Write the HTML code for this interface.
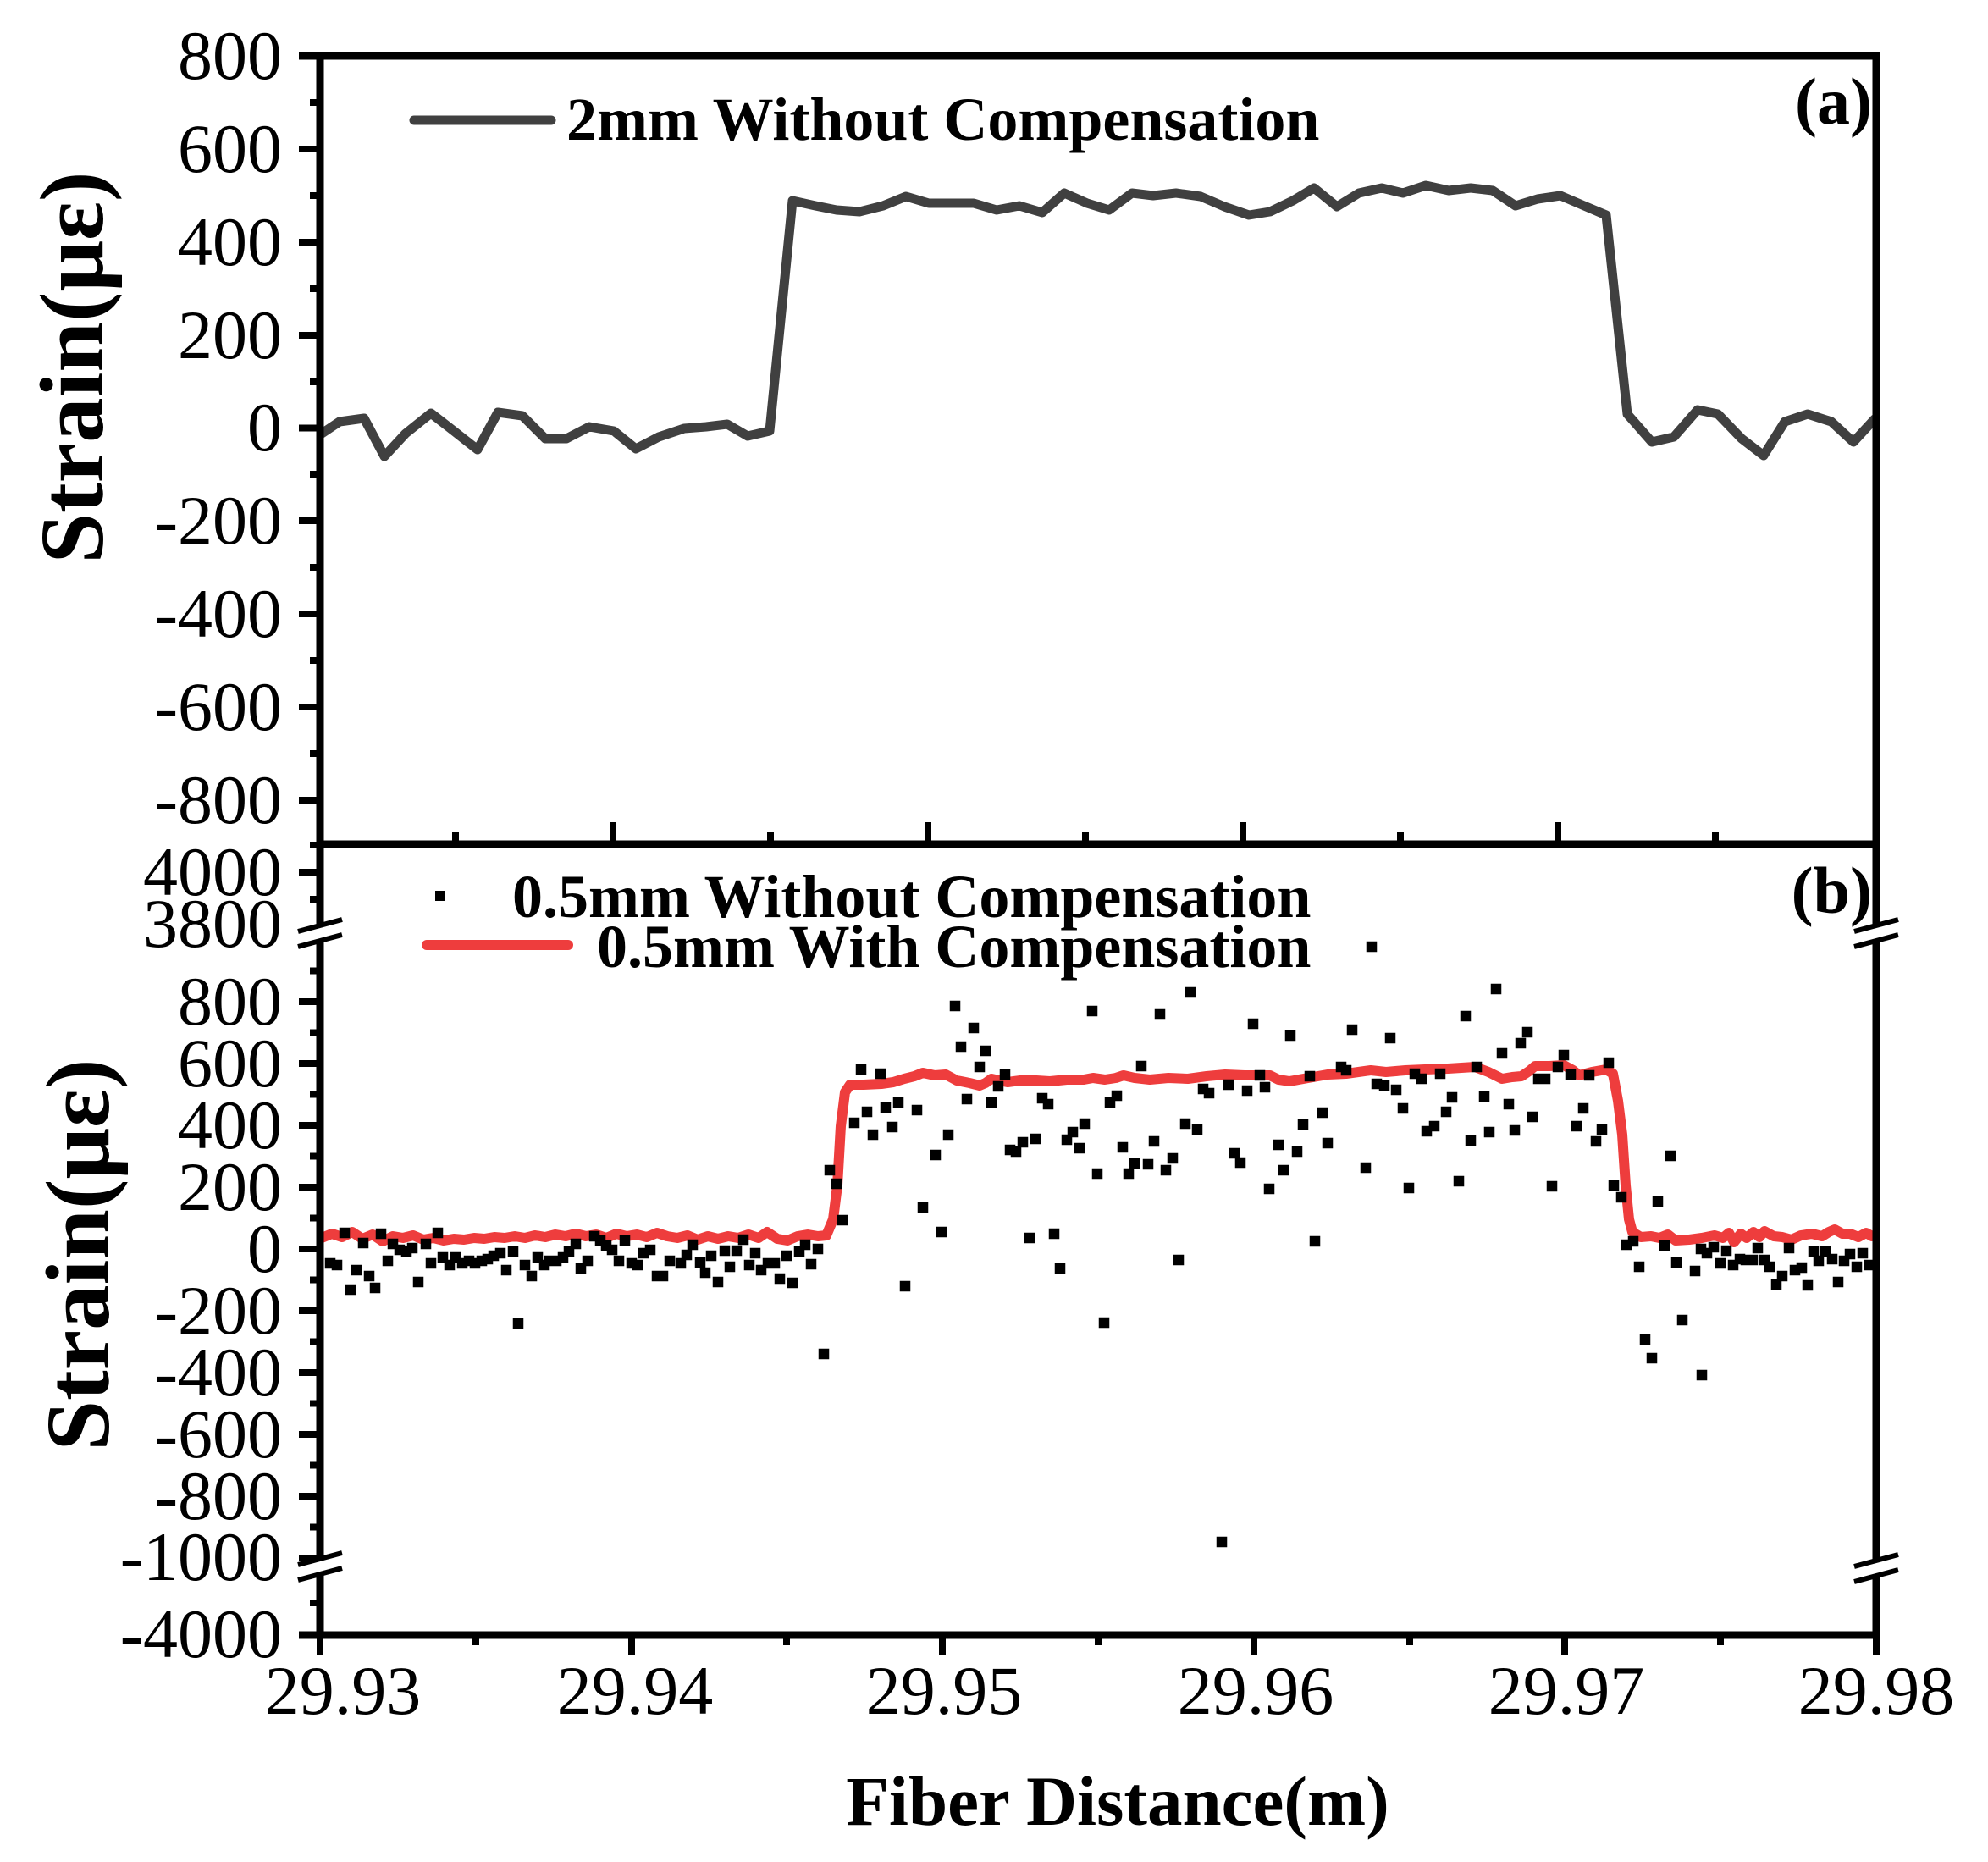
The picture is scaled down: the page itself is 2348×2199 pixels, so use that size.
<!DOCTYPE html>
<html>
<head>
<meta charset="utf-8">
<style>
html,body{margin:0;padding:0;background:#fff;}
svg{display:block;}
text{font-family:"Liberation Serif","Times New Roman",serif;fill:#000;}
.tl{font-size:82px;}
.b{font-weight:bold;}
</style>
</head>
<body>
<svg width="2348" height="2199" viewBox="0 0 2348 2199" xmlns="http://www.w3.org/2000/svg">
<rect x="0" y="0" width="2348" height="2199" fill="#fff"/>

<!-- ============ PANEL (a) ============ -->
<polyline fill="none" stroke="#404040" stroke-width="11" stroke-linejoin="round" stroke-linecap="round"
points="380,512 401,498 430,494 454,539 479,512 509,488 536,509 564,531 588,487 617,491 644,518 669,518 696,504 725,509 751,530 778,516 808,506 834,504 859,501 883,515 909,509 936,237 963,243 988,248 1015,250 1043,243 1070,232 1097,240 1123,240 1150,240 1177,248 1204,243 1231,251 1257,228 1284,240 1310,248 1337,228 1362,231 1389,228 1418,232 1446,244 1475,254 1500,250 1527,237 1552,222 1579,244 1605,228 1632,222 1657,228 1684,219 1711,225 1737,222 1763,225 1790,243 1816,235 1843,231 1871,243 1897,254 1922,489 1951,522 1977,516 2005,484 2029,489 2057,518 2083,538 2108,498 2135,489 2163,498 2189,522 2214,495"/>

<g stroke="#000" stroke-width="9" fill="none">
  <line x1="353" y1="66" x2="2220" y2="66"/>
  <line x1="378" y1="62" x2="378" y2="1001"/>
  <line x1="2216" y1="62" x2="2216" y2="1001"/>
  <line x1="374" y1="997" x2="2220" y2="997"/>
</g>
<g stroke="#000" stroke-width="8">
  <line x1="353" y1="176" x2="378" y2="176"/>
  <line x1="353" y1="286" x2="378" y2="286"/>
  <line x1="353" y1="396" x2="378" y2="396"/>
  <line x1="353" y1="505.5" x2="378" y2="505.5"/>
  <line x1="353" y1="615" x2="378" y2="615"/>
  <line x1="353" y1="725" x2="378" y2="725"/>
  <line x1="353" y1="835" x2="378" y2="835"/>
  <line x1="353" y1="945" x2="378" y2="945"/>
  <line x1="366" y1="121" x2="378" y2="121"/>
  <line x1="366" y1="231" x2="378" y2="231"/>
  <line x1="366" y1="341" x2="378" y2="341"/>
  <line x1="366" y1="451" x2="378" y2="451"/>
  <line x1="366" y1="560" x2="378" y2="560"/>
  <line x1="366" y1="670" x2="378" y2="670"/>
  <line x1="366" y1="780" x2="378" y2="780"/>
  <line x1="366" y1="890" x2="378" y2="890"/>
  <line x1="366" y1="998" x2="378" y2="998"/>
</g>
<g stroke="#000" stroke-width="8">
  <line x1="724" y1="997" x2="724" y2="971"/>
  <line x1="1096" y1="997" x2="1096" y2="971"/>
  <line x1="1468" y1="997" x2="1468" y2="971"/>
  <line x1="1840" y1="997" x2="1840" y2="971"/>
  <line x1="538" y1="997" x2="538" y2="982"/>
  <line x1="910" y1="997" x2="910" y2="982"/>
  <line x1="1282" y1="997" x2="1282" y2="982"/>
  <line x1="1654" y1="997" x2="1654" y2="982"/>
  <line x1="2026" y1="997" x2="2026" y2="982"/>
</g>
<g class="tl" text-anchor="end">
  <text x="333" y="93">800</text>
  <text x="333" y="203">600</text>
  <text x="333" y="313">400</text>
  <text x="333" y="423">200</text>
  <text x="333" y="532">0</text>
  <text x="333" y="642">-200</text>
  <text x="333" y="752">-400</text>
  <text x="333" y="862">-600</text>
  <text x="333" y="972">-800</text>
</g>
<text class="b" font-size="107" text-anchor="middle" transform="translate(121,434) rotate(-90)">Strain(με)</text>
<line x1="489" y1="142" x2="651" y2="142" stroke="#404040" stroke-width="11" stroke-linecap="round"/>
<text class="b" x="669" y="165" font-size="72">2mm Without Compensation</text>
<text class="b" x="2211" y="146" font-size="78" text-anchor="end">(a)</text>

<!-- ============ PANEL (b) ============ -->
<path fill="none" stroke="#ee3d3d" stroke-width="12" stroke-linejoin="round" stroke-linecap="round"
d="M380,1462 L392,1457 L404,1461 L416,1455 L428,1463 L440,1458 L452,1466 L464,1460 L476,1462 L488,1459 L500,1464 L512,1462 L524,1465 L536,1463 L548,1464 L560,1462 L572,1463 L584,1461 L596,1462 L608,1460 L620,1462 L632,1459 L644,1461 L656,1458 L668,1460 L680,1457 L692,1460 L704,1458 L716,1462 L728,1457 L740,1460 L752,1458 L764,1461 L776,1456 L788,1460 L800,1462 L812,1459 L824,1464 L836,1460 L848,1463 L860,1460 L872,1462 L884,1458 L896,1462 L906,1455 L918,1463 L930,1465 L942,1460 L954,1458 L966,1460 L976,1459 L984,1440 L989,1400 L993,1330 L998,1290 L1004,1281 L1020,1281 L1041,1280 L1055,1278 L1068,1274 L1080,1271 L1090,1267 L1104,1270 L1117,1269 L1130,1276 L1145,1279 L1157,1282 L1164,1279 L1171,1274 L1180,1276 L1190,1278 L1205,1276 L1224,1276 L1240,1277 L1260,1275 L1280,1275 L1291,1273 L1305,1275 L1318,1273 L1327,1270 L1340,1273 L1358,1275 L1380,1273 L1403,1274 L1425,1271 L1447,1269 L1470,1270 L1500,1270 L1510,1275 L1523,1277 L1545,1273 L1568,1269 L1590,1268 L1619,1264 L1637,1266 L1660,1264 L1683,1263 L1710,1262 L1742,1260 L1758,1266 L1774,1274 L1786,1272 L1797,1271 L1806,1265 L1813,1259 L1830,1259 L1847,1258 L1858,1264 L1865,1270 L1880,1266 L1897,1263 L1905,1268 L1911,1300 L1916,1340 L1920,1400 L1924,1440 L1928,1455 L1938,1461 L1950,1460 L1960,1462 L1970,1458 L1979,1465 L1995,1464 L2010,1462 L2025,1459 L2035,1462 L2042,1456 L2048,1467 L2056,1457 L2063,1462 L2071,1455 L2078,1461 L2084,1454 L2095,1460 L2105,1461 L2116,1464 L2127,1459 L2140,1457 L2152,1460 L2160,1455 L2167,1452 L2176,1457 L2185,1457 L2195,1461 L2204,1456 L2211,1460"/>

<path fill="none" stroke="#000" stroke-width="12.5" stroke-linecap="square"
d="M390,1492h.01M398,1494h.01M407,1456h.01M414,1523h.01M421,1500h.01M429,1468h.01M436,1507h.01M443,1521h.01M450,1457h.01M458,1489h.01M464,1469h.01M472,1476h.01M480,1478h.01M487,1474h.01M494,1514h.01M503,1469h.01M509,1492h.01M517,1456h.01M523,1485h.01M531,1494h.01M538,1485h.01M546,1492h.01M554,1489h.01M561,1492h.01M569,1489h.01M576,1487h.01M583,1483h.01M591,1480h.01M598,1500h.01M606,1478h.01M612,1563h.01M620,1494h.01M628,1507h.01M635,1485h.01M643,1494h.01M649,1489h.01M657,1489h.01M665,1485h.01M672,1478h.01M680,1469h.01M686,1498h.01M694,1489h.01M702,1460h.01M709,1465h.01M716,1471h.01M723,1476h.01M731,1489h.01M738,1465h.01M746,1492h.01M753,1494h.01M760,1480h.01M768,1476h.01M776,1507h.01M783,1507h.01M791,1489h.01
M804,1492h.01M811,1482h.01M818,1470h.01M827,1491h.01M833,1503h.01M840,1483h.01M848,1514h.01M856,1477h.01M862,1496h.01M870,1477h.01M878,1464h.01M885,1494h.01M892,1480h.01M899,1500h.01M907,1492h.01M915,1492h.01M921,1510h.01M929,1483h.01M936,1515h.01M944,1478h.01M951,1470h.01M958,1493h.01M966,1475h.01M973,1599h.01M980,1382h.01M988,1398h.01M995,1441h.01M1009,1326h.01M1017,1263h.01M1024,1313h.01M1031,1340h.01M1040,1268h.01M1046,1308h.01M1054,1331h.01M1061,1302h.01M1069,1519h.01M1083,1311h.01M1090,1426h.01M1105,1364h.01M1112,1455h.01M1120,1340h.01M1128,1188h.01M1135,1236h.01M1142,1298h.01M1150,1214h.01M1157,1260h.01M1164,1241h.01M1171,1302h.01M1179,1283h.01M1187,1269h.01M1193,1358h.01M1200,1360h.01M1208,1349h.01M1216,1462h.01M1223,1345h.01M1231,1297h.01M1238,1304h.01M1245,1457h.01M1252,1498h.01M1260,1346h.01M1267,1337h.01M1275,1356h.01M1281,1327h.01M1290,1194h.01M1296,1386h.01M1304,1562h.01M1311,1302h.01M1319,1294h.01M1326,1355h.01M1333,1386h.01M1340,1374h.01M1348,1259h.01M1356,1375h.01M1363,1348h.01M1370,1198h.01M1377,1382h.01M1385,1368h.01M1392,1488h.01M1400,1327h.01M1406,1172h.01M1414,1334h.01M1421,1286h.01M1428,1291h.01M1443,1821h.01M1451,1281h.01M1458,1362h.01M1465,1373h.01M1473,1288h.01M1480,1209h.01M1488,1270h.01M1494,1284h.01M1499,1404h.01
M1620,1118h.01M1524,1223h.01M1597,1216h.01M1642,1226h.01M1731,1200h.01M1767,1168h.01M1804,1219h.01M1796,1232h.01M1774,1244h.01M1847,1246h.01M1900,1255h.01M1584,1260h.01M1590,1264h.01M1547,1271h.01M1626,1280h.01M1635,1282h.01M1649,1287h.01M1671,1268h.01M1679,1274h.01M1701,1268h.01M1744,1260h.01M1817,1274h.01M1825,1274h.01M1840,1260h.01M1855,1269h.01M1877,1270h.01M1657,1309h.01M1715,1296h.01M1708,1313h.01M1753,1295h.01M1782,1304h.01M1810,1319h.01M1870,1309h.01M1562,1314h.01M1539,1328h.01M1510,1352h.01M1532,1360h.01M1568,1350h.01M1516,1382h.01M1613,1379h.01M1664,1403h.01M1685,1336h.01M1694,1330h.01M1737,1347h.01M1759,1337h.01M1789,1335h.01M1723,1395h.01M1833,1401h.01M1862,1330h.01M1892,1334h.01M1885,1348h.01M1553,1466h.01M1906,1400h.01M1915,1414h.01M1973,1365h.01M1958,1419h.01M1921,1470h.01M1929,1466h.01M1936,1496h.01M1966,1471h.01M1980,1491h.01M2002,1501h.01M2009,1475h.01M2016,1480h.01M2024,1473h.01M2032,1492h.01M2039,1477h.01M2047,1494h.01M2055,1487h.01M2062,1488h.01M2070,1488h.01M2076,1474h.01M2084,1488h.01M2090,1496h.01M2098,1517h.01M2105,1507h.01M2113,1474h.01M2120,1500h.01M2128,1497h.01M2135,1518h.01M2142,1478h.01M2148,1489h.01M2156,1478h.01M2164,1487h.01M2171,1514h.01M2178,1489h.01M2185,1481h.01M2193,1496h.01M2200,1480h.01M2208,1494h.01M1943,1582h.01M1951,1604h.01M1987,1559h.01M2010,1624h.01"/>

<g stroke="#000" stroke-width="9" fill="none">
  <line x1="378" y1="997" x2="378" y2="1935"/>
  <line x1="2216" y1="997" x2="2216" y2="1935"/>
  <line x1="353" y1="1931" x2="2220" y2="1931"/>
</g>
<g stroke="#000" stroke-width="8">
  <line x1="353" y1="1030" x2="378" y2="1030"/>
  <line x1="366" y1="1062" x2="378" y2="1062"/>
  <line x1="366" y1="1146.5" x2="378" y2="1146.5"/>
  <line x1="353" y1="1183" x2="378" y2="1183"/>
  <line x1="366" y1="1219.5" x2="378" y2="1219.5"/>
  <line x1="353" y1="1256" x2="378" y2="1256"/>
  <line x1="366" y1="1292.5" x2="378" y2="1292.5"/>
  <line x1="353" y1="1329" x2="378" y2="1329"/>
  <line x1="366" y1="1365.5" x2="378" y2="1365.5"/>
  <line x1="353" y1="1402" x2="378" y2="1402"/>
  <line x1="366" y1="1438.5" x2="378" y2="1438.5"/>
  <line x1="353" y1="1475" x2="378" y2="1475"/>
  <line x1="366" y1="1511.5" x2="378" y2="1511.5"/>
  <line x1="353" y1="1548" x2="378" y2="1548"/>
  <line x1="366" y1="1584.5" x2="378" y2="1584.5"/>
  <line x1="353" y1="1621" x2="378" y2="1621"/>
  <line x1="366" y1="1657.5" x2="378" y2="1657.5"/>
  <line x1="353" y1="1694" x2="378" y2="1694"/>
  <line x1="366" y1="1730.5" x2="378" y2="1730.5"/>
  <line x1="353" y1="1767" x2="378" y2="1767"/>
  <line x1="366" y1="1803.5" x2="378" y2="1803.5"/>
  <line x1="353" y1="1840" x2="378" y2="1840"/>
  <line x1="366" y1="1893" x2="378" y2="1893"/>
</g>
<g stroke="#000" stroke-width="8">
  <line x1="378" y1="1931" x2="378" y2="1954"/>
  <line x1="746" y1="1931" x2="746" y2="1954"/>
  <line x1="1113" y1="1931" x2="1113" y2="1954"/>
  <line x1="1481" y1="1931" x2="1481" y2="1954"/>
  <line x1="1848" y1="1931" x2="1848" y2="1954"/>
  <line x1="2216" y1="1931" x2="2216" y2="1954"/>
  <line x1="562" y1="1931" x2="562" y2="1943"/>
  <line x1="929" y1="1931" x2="929" y2="1943"/>
  <line x1="1297" y1="1931" x2="1297" y2="1943"/>
  <line x1="1665" y1="1931" x2="1665" y2="1943"/>
  <line x1="2032" y1="1931" x2="2032" y2="1943"/>
</g>

<g>
  <polygon points="352,1100 404,1086 404,1104 352,1118" fill="#fff"/>
  <polygon points="2190,1100 2242,1086 2242,1104 2190,1118" fill="#fff"/>
  <polygon points="352,1848 404,1834 404,1852 352,1866" fill="#fff"/>
  <polygon points="2190,1850 2242,1836 2242,1854 2190,1868" fill="#fff"/>
  <g stroke="#000" stroke-width="6">
    <line x1="352" y1="1100" x2="404" y2="1086"/>
    <line x1="352" y1="1118" x2="404" y2="1104"/>
    <line x1="2190" y1="1100" x2="2242" y2="1086"/>
    <line x1="2190" y1="1118" x2="2242" y2="1104"/>
    <line x1="352" y1="1848" x2="404" y2="1834"/>
    <line x1="352" y1="1866" x2="404" y2="1852"/>
    <line x1="2190" y1="1850" x2="2242" y2="1836"/>
    <line x1="2190" y1="1868" x2="2242" y2="1854"/>
  </g>
</g>

<g class="tl" text-anchor="end">
  <text x="333" y="1057">4000</text>
  <text x="333" y="1118">3800</text>
  <text x="333" y="1210">800</text>
  <text x="333" y="1283">600</text>
  <text x="333" y="1356">400</text>
  <text x="333" y="1429">200</text>
  <text x="333" y="1502">0</text>
  <text x="333" y="1575">-200</text>
  <text x="333" y="1648">-400</text>
  <text x="333" y="1721">-600</text>
  <text x="333" y="1794">-800</text>
  <text x="333" y="1866">-1000</text>
  <text x="333" y="1957">-4000</text>
</g>
<g class="tl" text-anchor="middle">
  <text x="405" y="2024">29.93</text>
  <text x="750" y="2024">29.94</text>
  <text x="1115" y="2024">29.95</text>
  <text x="1483" y="2024">29.96</text>
  <text x="1850" y="2024">29.97</text>
  <text x="2216" y="2024">29.98</text>
</g>
<text class="b" font-size="107" text-anchor="middle" transform="translate(128,1482) rotate(-90)">Strain(με)</text>
<text class="b" x="1320" y="2155" font-size="83" text-anchor="middle">Fiber Distance(m)</text>

<rect x="514" y="1052" width="12" height="12" fill="#000"/>
<text class="b" x="605" y="1083" font-size="72">0.5mm Without Compensation</text>
<line x1="504" y1="1116" x2="671" y2="1116" stroke="#ee3d3d" stroke-width="12" stroke-linecap="round"/>
<text class="b" x="705" y="1142" font-size="72">0.5mm With Compensation</text>
<text class="b" x="2211" y="1078" font-size="78" text-anchor="end">(b)</text>
</svg>
</body>
</html>
